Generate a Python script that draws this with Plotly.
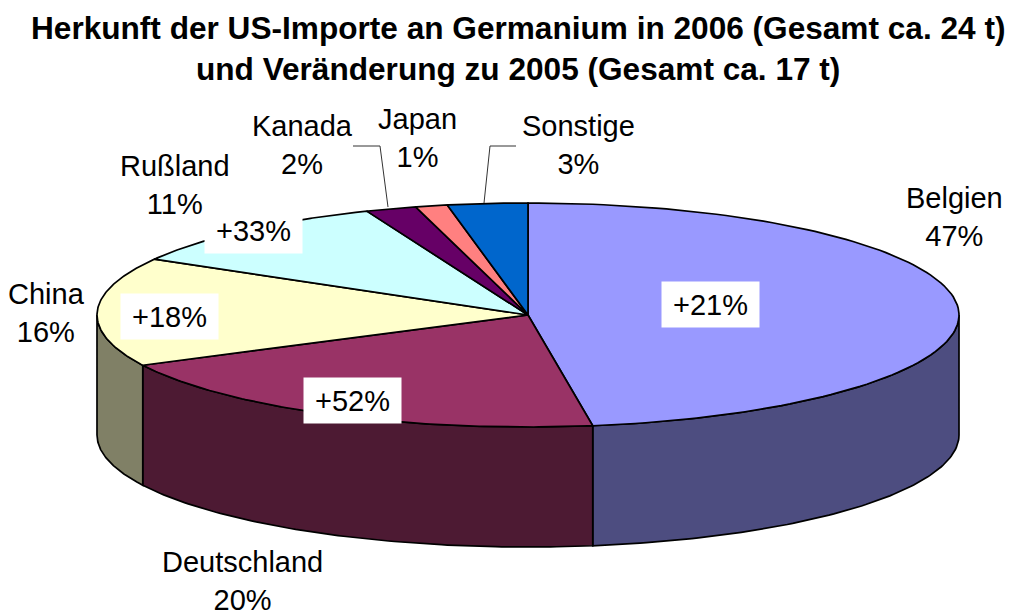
import numpy as np
import plotly.graph_objects as go

countries = ["Belgien", "Deutschland", "China", "Rußland", "Kanada", "Japan", "Sonstige"]
shares = [47.6, 20.0, 15.7, 10.6, 1.9, 1.2, 3.0]
share_labels = ["47%", "20%", "16%", "11%", "2%", "1%", "3%"]
changes = ["+21%", "+52%", "+18%", "+33%", None, None, None]
top_colors = ["#9999FF", "#993366", "#FFFFCC", "#CCFFFF", "#660066", "#FF8080", "#0066CC"]
side_colors = ["#4D4D80", "#4D1A33", "#808066", "#668080", "#330033", "#804040", "#003366"]
title_lines = ["Herkunft der US-Importe an Germanium in 2006 (Gesamt ca. 24 t)",
               "und Veränderung zu 2005 (Gesamt ca. 17 t)"]

CX, CY, RX, RY, DEPTH = 528, 315, 431, 112, 120
FONT = "Liberation Sans"

label_pos = [(954, 217), (242, 581), (46, 313), (175, 185), (302, 145), (417, 138), (578, 145)]
change_box = [(710.5, 304.5, 97, 45), (352.5, 400.5, 97, 45), (169.5, 316.5, 97, 45), (253.5, 230.5, 97, 45)]


def px(theta):
    return CX + RX * np.sin(theta), CY - RY * np.cos(theta)


fig = go.Figure()
edges = np.concatenate([[0], np.cumsum(shares)]) / sum(shares) * 2 * np.pi
LINE = dict(color="#000000", width=1.7)

# cylinder wall: only the part of each slice that faces the viewer
for i in range(len(shares)):
    a, b = max(edges[i], np.pi / 2), min(edges[i + 1], 3 * np.pi / 2)
    if b <= a:
        continue
    t = np.linspace(a, b, 90)
    x, y = px(t)
    fig.add_trace(go.Scatter(
        x=np.concatenate([x, x[::-1], x[:1]]),
        y=np.concatenate([y, y[::-1] + DEPTH, y[:1]]),
        mode="lines", fill="toself", fillcolor=side_colors[i], line=LINE,
        hoverinfo="skip", showlegend=False))

# top face
for i in range(len(shares)):
    t = np.linspace(edges[i], edges[i + 1], 120)
    x, y = px(t)
    fig.add_trace(go.Scatter(
        x=np.concatenate([[CX], x, [CX]]),
        y=np.concatenate([[CY], y, [CY]]),
        mode="lines", fill="toself", fillcolor=top_colors[i], line=LINE,
        name=countries[i], hoverinfo="name", showlegend=False))

annotations = []
for k, line in enumerate(title_lines):
    annotations.append(dict(x=518, y=28 + k * 41, text=f"<b>{line}</b>", showarrow=False,
                            font=dict(family=FONT, size=31.6, color="#000000")))
for (x, y), name, lab in zip(label_pos, countries, share_labels):
    annotations.append(dict(x=x, y=y, text=f"{name}<br>{lab}", showarrow=False,
                            font=dict(family=FONT, size=29, color="#000000")))
for (x, y, w, h), ch in zip(change_box, changes):
    if ch is None:
        continue
    annotations.append(dict(x=x, y=y, text=ch, showarrow=False, width=w, height=h,
                            bgcolor="#FFFFFF", borderpad=0, align="center", valign="middle",
                            font=dict(family=FONT, size=29, color="#000000")))
for a in annotations:
    a.update(xref="x", yref="y")

leader = dict(color="#333333", width=1)
shapes = [
    dict(type="path", path="M353,146 L380,146 L388,207", line=leader, xref="x", yref="y", layer="above"),
    dict(type="path", path="M516,146 L490,146 L484,203", line=leader, xref="x", yref="y", layer="above"),
]

fig.update_layout(
    width=1010, height=615, margin=dict(l=0, r=0, t=0, b=0),
    paper_bgcolor="#FFFFFF", plot_bgcolor="#FFFFFF", showlegend=False,
    xaxis=dict(range=[0, 1010], visible=False, fixedrange=True),
    yaxis=dict(range=[615, 0], visible=False, fixedrange=True),
    annotations=annotations, shapes=shapes,
)
fig.write_html("out.html", config={"displayModeBar": False},
               post_script="document.body.style.margin='0';document.body.style.overflow='hidden';")
